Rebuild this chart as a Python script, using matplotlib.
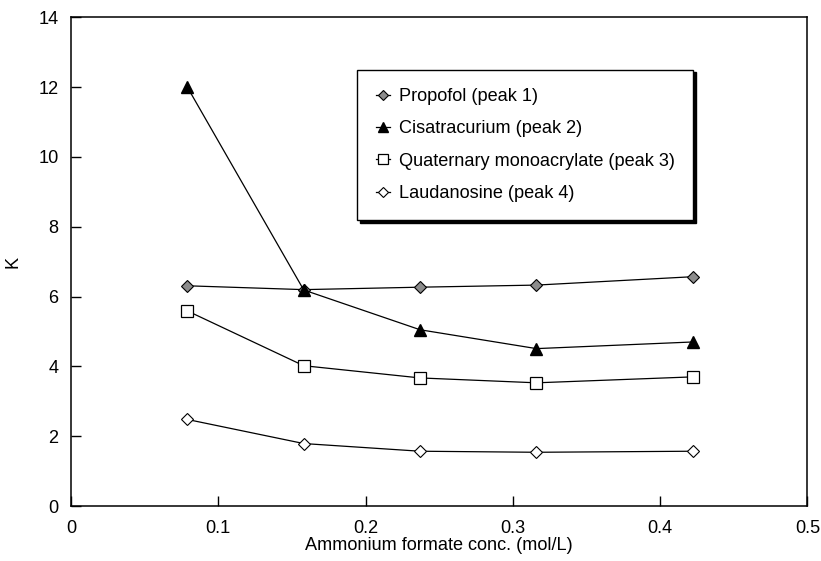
import matplotlib
matplotlib.use('Agg')
import matplotlib.pyplot as plt

""" DATA """
conc = [0.079, 0.158, 0.237, 0.316, 0.422]
propofol = [6.31, 6.20, 6.27, 6.33, 6.57]
cisatracurium = [12.0, 6.19, 5.05, 4.51, 4.70]
monoacrylate = [5.59, 4.02, 3.67, 3.53, 3.70]
laudanosine = [2.48, 1.79, 1.57, 1.54, 1.57]

labels = ['Propofol (peak 1)', 'Cisatracurium (peak 2)',
          'Quaternary monoacrylate (peak 3)', 'Laudanosine (peak 4)']
x_ticks = [0, 0.1, 0.2, 0.3, 0.4, 0.5]
y_ticks = [0, 2, 4, 6, 8, 10, 12, 14]

FS = 13.1
plt.rcParams['font.family'] = ['Liberation Sans', 'DejaVu Sans']
plt.rcParams['font.size'] = FS

fig = plt.figure(figsize=(8.21, 5.61), dpi=100)
ax = fig.add_axes([0.0865, 0.098, 0.897, 0.871])

lw = 0.9
ax.plot(conc, propofol, color='black', lw=lw, marker='D', ms=6,
        mfc='0.55', mec='black', mew=0.8, label=labels[0])
ax.plot(conc, cisatracurium, color='black', lw=lw, marker='^', ms=8.5,
        mfc='black', mec='black', label=labels[1])
ax.plot(conc, monoacrylate, color='black', lw=lw, marker='s', ms=8.5,
        mfc='white', mec='black', mew=0.9, label=labels[2])
ax.plot(conc, laudanosine, color='black', lw=lw, marker='D', ms=6.5,
        mfc='white', mec='black', mew=0.8, label=labels[3])

ax.set_xlim(0, 0.5)
ax.set_ylim(0, 14)
ax.set_xticks(x_ticks)
ax.set_xticklabels(['0', '0.1', '0.2', '0.3', '0.4', '0.5'])
ax.set_yticks(y_ticks)
ax.tick_params(direction='in', length=7, width=1, pad=10, labelsize=FS)
ax.tick_params(axis='y', pad=9)
for s in ax.spines.values():
    s.set_linewidth(1.1)

ax.set_xlabel('Ammonium formate conc. (mol/L)', labelpad=0, fontsize=FS)
ax.set_ylabel('K', labelpad=12, fontsize=FS)

leg = ax.legend(loc='upper left', bbox_to_anchor=(0.389, 0.893),
                frameon=True, fancybox=False, edgecolor='black',
                shadow={'color': 'black', 'alpha': 1, 'ox': 2, 'oy': -2},
                handlelength=0.8, handletextpad=0.5, labelspacing=0.85,
                borderpad=1.0, borderaxespad=0, fontsize=FS)
leg.get_frame().set_linewidth(1.0)
leg.get_frame().set_alpha(1)
for h in leg.legend_handles:
    h.set_markersize(h.get_markersize() * 0.85)

fig.savefig('out.png', dpi=100)
